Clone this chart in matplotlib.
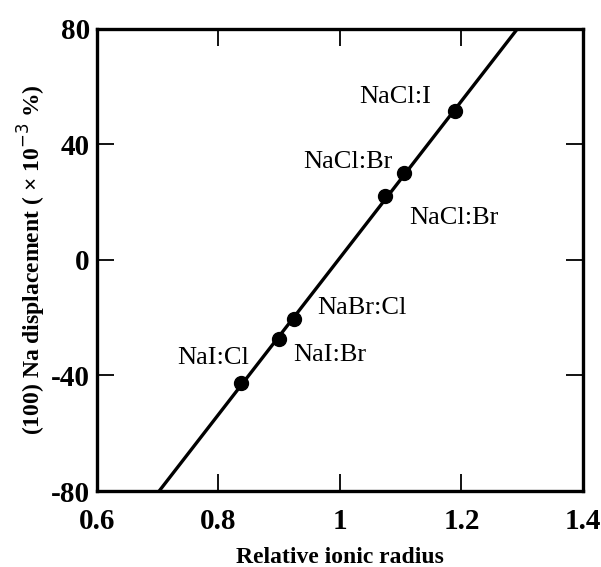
import numpy as np
import matplotlib.pyplot as plt

plt.rcParams['font.family'] = 'Liberation Serif'
plt.rcParams['axes.unicode_minus'] = False

# data
names = ['NaI:Cl', 'NaI:Br', 'NaBr:Cl', 'NaCl:Br', 'NaCl:Br', 'NaCl:I']
radius = [0.837, 0.900, 0.925, 1.075, 1.105, 1.190]
displacement = [-42.5, -27.5, -20.5, 22.0, 30.0, 51.5]
label_x = [0.791, 0.984, 1.036, 1.188, 1.013, 1.091]
label_y = [-34.0, -33.0, -16.5, 14.5, 34.0, 56.5]

fig = plt.figure(figsize=(6.01, 5.67), dpi=100)
ax = fig.add_axes([0.161, 0.134, 0.809, 0.815])

# fitted straight line across the whole frame
k, b = np.polyfit(radius, displacement, 1)
xs = np.array([0.6, 1.4])
ax.plot(xs, k * xs + b, color='black', lw=2.4)
ax.plot(radius, displacement, 'o', color='black', ms=10)

for n, tx, ty in zip(names, label_x, label_y):
    ax.text(tx, ty, n, fontsize=19, ha='center', va='center')

ax.set_xlim(0.6, 1.4)
ax.set_ylim(-80, 80)
ax.set_xticks([0.6, 0.8, 1.0, 1.2, 1.4])
ax.set_xticklabels(['0.6', '0.8', '1', '1.2', '1.4'])
ax.set_yticks([-80, -40, 0, 40, 80])
ax.tick_params(direction='in', length=12, width=1.3, top=True, right=True,
               labelsize=21, pad=5)
ax.tick_params(axis='x', pad=12)
for lab in ax.get_xticklabels() + ax.get_yticklabels():
    lab.set_fontweight('bold')
for s in ax.spines.values():
    s.set_linewidth(2.4)

ax.set_xlabel('Relative ionic radius', fontsize=17, fontweight='bold')
ax.set_ylabel('(100) Na displacement ( × 10$^{\\mathrm{-3}}$ %)', fontsize=17,
              fontweight='bold')
ax.xaxis.set_label_coords(0.5, -0.122)
ax.yaxis.set_label_coords(-0.1, 0.5)

fig.savefig('out.png', dpi=100)
